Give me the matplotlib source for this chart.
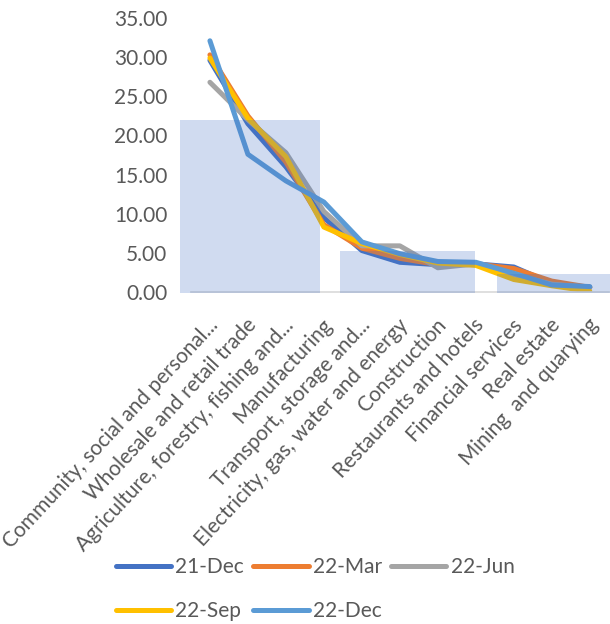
import matplotlib
matplotlib.use('Agg')
import matplotlib.pyplot as plt
from matplotlib.patches import Rectangle
from matplotlib.transforms import ScaledTranslation

plt.rcParams['font.family'] = ['Lato', 'DejaVu Sans']

# categories (x axis)
sectors = ['Community, social and personal...', 'Wholesale and retail trade',
           'Agriculture, forestry, fishing and...', 'Manufacturing',
           'Transport, storage and...', 'Electricity, gas, water and energy',
           'Construction', 'Restaurants and hotels', 'Financial services',
           'Real estate', 'Mining  and quarying']

# series
dec21 = [29.6, 21.5, 16.0, 9.5, 5.3, 3.8, 3.5, 3.6, 3.2, 1.1, 0.6]
mar22 = [30.3, 22.5, 16.6, 8.6, 5.6, 4.3, 3.5, 3.6, 3.0, 1.4, 0.6]
jun22 = [26.8, 22.0, 17.8, 10.3, 5.9, 5.9, 3.1, 3.6, 2.2, 1.0, 0.6]
sep22 = [29.9, 22.2, 17.3, 8.3, 6.2, 4.8, 3.7, 3.4, 1.6, 0.8, 0.1]
dec22 = [32.1, 17.6, 14.2, 11.5, 6.4, 4.9, 3.9, 3.8, 2.4, 0.9, 0.7]

series_names = ['21-Dec', '22-Mar', '22-Jun', '22-Sep', '22-Dec']
series_vals = [dec21, mar22, jun22, sep22, dec22]
colors = ['#4472C4', '#ED7D31', '#A5A5A5', '#FFC000', '#5B9BD5']

# shaded blocks (in category units)
block_start = [-0.79, 3.42, 7.55]
block_end = [2.89, 6.97, 10.53]
block_height = [22.0, 5.2, 2.3]

fig = plt.figure(figsize=(6.1, 6.24), dpi=100)
ax = fig.add_axes([0.313, 0.532, 0.685, 0.439])

x = list(range(len(sectors)))
lines = []
for name, vals, c in zip(series_names, series_vals, colors):
    ln, = ax.plot(x, vals, color=c, lw=3.6, label=name,
                  solid_capstyle='round', solid_joinstyle='round')
    lines.append(ln)

for s, e, h in zip(block_start, block_end, block_height):
    ax.add_patch(Rectangle((s, -0.1), e - s, h + 0.1, facecolor='#4472C4',
                           alpha=0.25, edgecolor='none', zorder=5, clip_on=False))

ax.set_xlim(-0.5, 10.5)
ax.set_ylim(0, 35)
ax.set_yticks(range(0, 36, 5))
ax.set_yticklabels(['%.2f' % v for v in range(0, 36, 5)])

for sp in ['top', 'right', 'left']:
    ax.spines[sp].set_visible(False)
ax.spines['bottom'].set_color('#D9D9D9')
ax.spines['bottom'].set_linewidth(1.2)
ax.tick_params(axis='both', length=0, colors='#595959', labelsize=15)
ax.tick_params(axis='y', pad=17)

ax.set_xticks(x)
ax.set_xticklabels(sectors, rotation=47, ha='right', va='center',
                   rotation_mode='anchor', fontsize=15, color='#595959')
off = ScaledTranslation(0.05, -0.25, fig.dpi_scale_trans)
for lab in ax.get_xticklabels():
    lab.set_transform(lab.get_transform() + off)

# row-wise order like the original legend
order = [0, 3, 1, 4, 2]
fig.legend([lines[i] for i in order], [series_names[i] for i in order],
           loc='upper left', bbox_to_anchor=(0.19, 0.107), ncol=3,
           frameon=False, fontsize=15, handlelength=2.65, handletextpad=0.2,
           columnspacing=0.45, labelspacing=1.15, borderpad=0, borderaxespad=0,
           labelcolor='#595959')

fig.savefig('out.png', dpi=100)
